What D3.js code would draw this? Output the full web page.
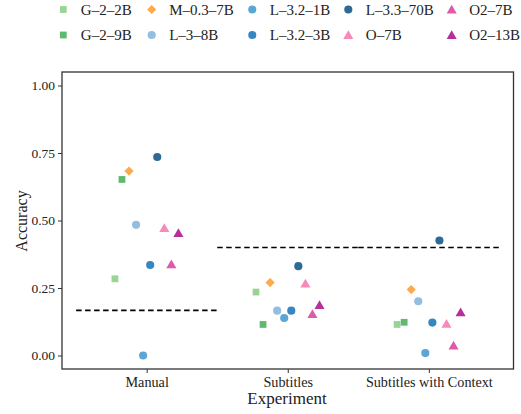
<!DOCTYPE html>
<html><head><meta charset="utf-8">
<script src="https://cdn.jsdelivr.net/npm/d3@7/dist/d3.min.js"></script>
<style>body{margin:0;background:#fff}svg{display:block}</style>
</head><body><svg id="c" width="521" height="414"></svg>
<script>
const experiments = ["Manual", "Subtitles", "Subtitles with Context"];
const models = ["G–2–2B","G–2–9B","M–0.3–7B","L–3–8B","L–3.2–1B","L–3.2–3B","L–3.3–70B","O–7B","O2–7B","O2–13B"];
const modelColors = ["#98d594","#5fb96e","#fdaa4e","#93bedf","#5ba6d3","#3686c1","#2e6a95","#f78ab8","#e05aab","#b5309a"];
const modelShapes = ["square","square","diamond","circle","circle","circle","circle","triangle","triangle","triangle"];
// accuracy per model, in experiment order
const accManual   = [0.284,0.652,0.683,0.484,0.000,0.335,0.735,0.472,0.338,0.453];
const accSubtitle = [0.235,0.115,0.270,0.166,0.139,0.166,0.331,0.266,0.153,0.187];
const accContext  = [0.115,0.123,0.244,0.201,0.009,0.122,0.426,0.117,0.037,0.160];
const baselines = [0.167, 0.40, 0.40];
const yTicks = [0, 0.25, 0.5, 0.75, 1.0];

const FONT = "Liberation Serif";
const svg = d3.select("#c");
const L = 62, R = 513.5, T = 72, B = 369;
const x = d3.scaleLinear().domain([-0.6, 2.6]).range([L, R]);
const y = d3.scaleLinear().domain([-0.05, 1.05]).range([B, T]);
const dodge = d3.scaleLinear().domain([0, models.length - 1]).range([-0.225, 0.225]);

const sym = {square: d3.symbolSquare, diamond: d3.symbolSquare, circle: d3.symbolCircle, triangle: d3.symbolTriangle};
const size = {square: 46, diamond: 42, circle: 52, triangle: 44};
function marker(g, i) {
  const s = modelShapes[i];
  g.append("path").attr("d", d3.symbol().type(sym[s]).size(size[s])())
   .attr("fill", modelColors[i])
   .attr("transform", s === "triangle" ? "translate(0,1)" : s === "diamond" ? "rotate(45)" : null);
}

// axes
const yAxis = d3.axisLeft(y).tickValues(yTicks).tickFormat(d3.format(".2f")).tickSize(4).tickPadding(3);
const gy = svg.append("g").attr("transform", `translate(${L},0)`).call(yAxis);
const xAxis = d3.axisBottom(x).tickValues([0,1,2]).tickFormat(i => experiments[i]).tickSize(4).tickPadding(4);
const gx = svg.append("g").attr("transform", `translate(0,${B})`).call(xAxis);
[gy, gx].forEach(g => {
  g.attr("font-family", FONT);
  g.select(".domain").remove();
  g.selectAll(".tick line").attr("stroke", "#333").attr("stroke-width", 1);
  g.selectAll(".tick text").attr("fill", "#222").attr("font-family", FONT);
});
gy.attr("font-size", 13.5);
gx.attr("font-size", 14.2);
svg.append("rect").attr("x", L).attr("y", T).attr("width", R - L).attr("height", B - T)
  .attr("fill", "none").attr("stroke", "#333").attr("stroke-width", 1.3);

// baselines
svg.append("g").selectAll("line").data(baselines).join("line")
  .attr("x1", (d, i) => x(i - 0.5)).attr("x2", (d, i) => x(i + 0.5))
  .attr("y1", d => y(d)).attr("y2", d => y(d))
  .attr("stroke", "#000").attr("stroke-width", 1.6).attr("stroke-dasharray", "5.5,3.5");

// points
const series = [accManual, accSubtitle, accContext];
series.forEach((vals, e) => {
  vals.forEach((v, m) => {
    const g = svg.append("g").attr("transform", `translate(${x(e + dodge(m))},${y(v)})`);
    marker(g, m);
  });
});

// labels
svg.append("text").attr("x", 287).attr("y", 404).attr("text-anchor", "middle")
  .attr("font-family", FONT).attr("font-size", 17).attr("fill", "#222").text("Experiment");
svg.append("text").attr("transform", "translate(27,221) rotate(-90)").attr("text-anchor", "middle")
  .attr("font-family", FONT).attr("font-size", 16).attr("fill", "#222").text("Accuracy");

// legend
const colX = [63.3, 151.7, 252.3, 348.3, 451.7];
const rowY = [9.5, 35];
models.forEach((m, i) => {
  const c = Math.floor(i / 2), r = i % 2;
  const g = svg.append("g").attr("transform", `translate(${colX[c]},${rowY[r]})`);
  marker(g, i);
  svg.append("text").attr("x", colX[c] + 17.5).attr("y", rowY[r] + 5)
    .attr("font-family", FONT).attr("font-size", 15).attr("fill", "#222").text(m);
});
</script></body></html>
